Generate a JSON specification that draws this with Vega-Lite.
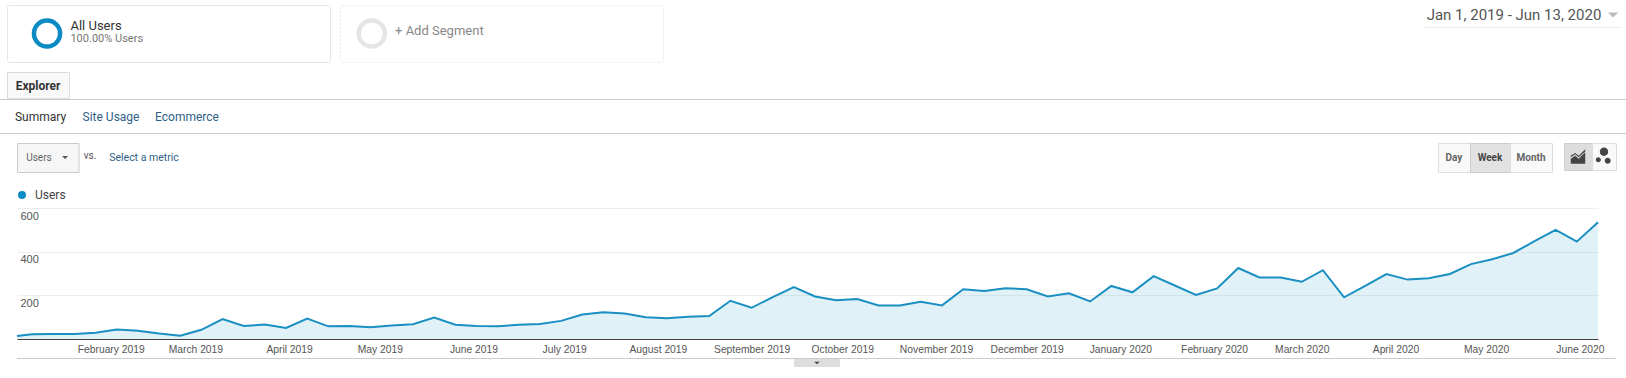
{
"$schema":"https://vega.github.io/schema/vega-lite/v6.json",
"padding":0,
"background":"#ffffff",
"spacing":0,
"config":{"view":{"stroke":null,"fill":"transparent"},"concat":{"spacing":0},"text":{"font":"Roboto"}},
"vconcat":[
{"width":10,"height":3.5,"data":{"values":[]},"mark":"point"},
{"hconcat":[
 {"width":7,"height":1,"data":{"values":[]},"mark":"point"},
 {"width":323,"height":57,"view":{"fill":"#ffffff","stroke":"#e6e6e6","cornerRadius":2},
  "layer":[
   {"data":{"values":[{"part":"ring"}]},"mark":{"type":"point","filled":false,"strokeWidth":4.5,"size":680,"color":"#0a8bc4","opacity":1},
    "encoding":{"x":{"field":"part","type":"nominal","axis":null,"scale":{"type":"point","domain":["ring","text","c","d","e","f","g","h","i","j","k","l","m"],"padding":0.9,"align":0.95}}}},
   {"data":{"values":[{"part":"text","label":"All Users"}]},"mark":{"type":"text","align":"left","font":"Roboto","fontSize":13,"color":"#333333","dy":-1},
    "encoding":{"x":{"field":"part","type":"nominal","axis":null,"scale":{"type":"point","domain":["ring","text","c","d","e","f","g","h","i","j","k","l","m"],"padding":0.9,"align":0.95}},
     "y":{"field":"label","type":"nominal","axis":null,"scale":{"type":"point","domain":["top","All Users","100.00% Users","bottom"],"padding":0.69}},
     "text":{"field":"label"}}},
   {"data":{"values":[{"part":"text","label":"100.00% Users"}]},"mark":{"type":"text","align":"left","font":"Roboto","fontSize":11,"color":"#777777","dy":-1},
    "encoding":{"x":{"field":"part","type":"nominal","axis":null,"scale":{"type":"point","domain":["ring","text","c","d","e","f","g","h","i","j","k","l","m"],"padding":0.9,"align":0.95}},
     "y":{"field":"label","type":"nominal","axis":null,"scale":{"type":"point","domain":["top","All Users","100.00% Users","bottom"],"padding":0.69}},
     "text":{"field":"label"}}}
  ]},
 {"width":10,"height":1,"data":{"values":[]},"mark":"point"},
 {"width":323,"height":57,"view":{"fill":"#ffffff","stroke":"#e8e8e8","strokeDash":[2,2],"cornerRadius":2},
  "layer":[
   {"data":{"values":[{"part":"ring"}]},"mark":{"type":"point","filled":false,"strokeWidth":4.5,"size":680,"color":"#e5e5e5","opacity":1},
    "encoding":{"x":{"field":"part","type":"nominal","axis":null,"scale":{"type":"point","domain":["ring","text","c","d","e","f","g","h","i","j","k","l","m"],"padding":0.95,"align":0.72}}}},
   {"data":{"values":[{"part":"text","label":"+ Add Segment"}]},"mark":{"type":"text","align":"left","font":"Roboto","fontSize":13,"color":"#888888","dy":-3},
    "encoding":{"x":{"field":"part","type":"nominal","axis":null,"scale":{"type":"point","domain":["ring","text","c","d","e","f","g","h","i","j","k","l","m"],"padding":0.95,"align":0.72}},
     "text":{"field":"label"}}}
  ]},
 {"width":761,"height":1,"data":{"values":[]},"mark":"point"},
 {"vconcat":[
   {"hconcat":[
     {"width":180,"height":20,"data":{"values":[{"label":"Jan 1, 2019 - Jun 13, 2020"}]},"mark":{"type":"text","font":"Roboto","fontSize":15,"color":"#555555"},"encoding":{"text":{"field":"label"}}},
     {"width":18,"height":20,"data":{"values":[{"glyph":"caret"}]},"mark":{"type":"point","filled":true,"shape":"M-1,-0.5L1,-0.5L0,0.5Z","size":110,"color":"#bbbbbb","opacity":1},"encoding":{}}
   ],"spacing":0,"bounds":"flush"},
   {"width":198,"height":2,"data":{"values":[]},"mark":"point"},
   {"width":198,"height":1,"view":{"fill":"#eeeeee"},"data":{"values":[]},"mark":"point"}
 ],"spacing":0}
],"spacing":0,"bounds":"flush"},
{"width":10,"height":8,"data":{"values":[]},"mark":"point"},
{"hconcat":[
 {"width":7,"height":1,"data":{"values":[]},"mark":"point"},
 {"width":62,"height":26,"view":{"fill":"#f9f9f9","stroke":"#dddddd"},"data":{"values":[{"label":"Explorer"}]},"mark":{"type":"text","font":"Roboto","fontSize":12,"fontWeight":"bold","color":"#333333","dy":1},"encoding":{"text":{"field":"label"}}}
],"spacing":0,"bounds":"flush"},
{"width":1626,"height":1,"view":{"fill":"#cccccc"},"data":{"values":[]},"mark":"point"},
{"hconcat":[
 {"width":15,"height":1,"data":{"values":[]},"mark":"point"},
 {"width":51,"height":33,"data":{"values":[{"label":"Summary"}]},"mark":{"type":"text","font":"Roboto","fontSize":12,"color":"#333333"},"encoding":{"text":{"field":"label"}}},
 {"width":16,"height":1,"data":{"values":[]},"mark":"point"},
 {"width":58,"height":33,"data":{"values":[{"label":"Site Usage"}]},"mark":{"type":"text","font":"Roboto","fontSize":12,"color":"#2f5f86"},"encoding":{"text":{"field":"label"}}},
 {"width":15,"height":1,"data":{"values":[]},"mark":"point"},
 {"width":64,"height":33,"data":{"values":[{"label":"Ecommerce"}]},"mark":{"type":"text","font":"Roboto","fontSize":12,"color":"#2f5f86"},"encoding":{"text":{"field":"label"}}}
],"spacing":0,"bounds":"flush"},
{"width":1626,"height":1,"view":{"fill":"#cccccc"},"data":{"values":[]},"mark":"point"},
{"width":10,"height":8,"data":{"values":[]},"mark":"point"},
{"hconcat":[
 {"width":17,"height":1,"data":{"values":[]},"mark":"point"},
 {"width":61.5,"height":29,"view":{"fill":"#f6f6f6","stroke":"#cccccc"},
  "layer":[
   {"data":{"values":[{"part":"metric","label":"Users"}]},"mark":{"type":"text","font":"Roboto","fontSize":10,"color":"#666666"},
    "encoding":{"x":{"field":"part","type":"nominal","axis":null,"scale":{"type":"point","domain":["metric","caret"],"padding":0.68,"align":0.62}},"text":{"field":"label"}}},
   {"data":{"values":[{"part":"caret"}]},"mark":{"type":"point","filled":true,"shape":"M-1,-0.5L1,-0.5L0,0.5Z","size":36,"color":"#555555","opacity":1},
    "encoding":{"x":{"field":"part","type":"nominal","axis":null,"scale":{"type":"point","domain":["metric","caret"],"padding":0.68,"align":0.62}}}}
  ]},
 {"width":22,"height":26,"data":{"values":[{"label":"vs."}]},"mark":{"type":"text","font":"Roboto","fontSize":10,"color":"#555555"},"encoding":{"text":{"field":"label"}}},
 {"width":9,"height":1,"data":{"values":[]},"mark":"point"},
 {"width":68,"height":29,"data":{"values":[{"label":"Select a metric"}]},"mark":{"type":"text","font":"Roboto","fontSize":10.5,"color":"#2f5f86"},"encoding":{"text":{"field":"label"}}},
 {"width":1260,"height":1,"data":{"values":[]},"mark":"point"},
 {"width":32,"height":29,"view":{"fill":"#f9f9f9","stroke":"#dddddd"},"data":{"values":[{"label":"Day"}]},"mark":{"type":"text","font":"Roboto","fontSize":10,"fontWeight":"bold","color":"#666666"},"encoding":{"text":{"field":"label"}}},
 {"width":40,"height":29,"view":{"fill":"#e2e2e2","stroke":"#cccccc"},"data":{"values":[{"label":"Week"}]},"mark":{"type":"text","font":"Roboto","fontSize":10,"fontWeight":"bold","color":"#444444"},"encoding":{"text":{"field":"label"}}},
 {"width":42,"height":29,"view":{"fill":"#f9f9f9","stroke":"#dddddd"},"data":{"values":[{"label":"Month"}]},"mark":{"type":"text","font":"Roboto","fontSize":10,"fontWeight":"bold","color":"#666666"},"encoding":{"text":{"field":"label"}}},
 {"width":12,"height":1,"data":{"values":[]},"mark":"point"},
 {"width":28,"height":27,"view":{"fill":"#dddddd","stroke":"#cccccc"},"data":{"values":[{"icon":"timeline"}]},"mark":{"type":"point","filled":true,"opacity":1,"color":"#444444","size":210,"shape":"M-1,1L-1,0.3L-0.4,-0.1L0.1,0.3L1,-0.6L1,1ZM-1,-0.1L-0.4,-0.5L0.1,-0.1L1,-1L1,-0.7L0.1,0.1L-0.4,-0.3L-1,0.1Z"},"encoding":{}},
 {"width":24,"height":27,"view":{"fill":"#f9f9f9","stroke":"#dddddd"},"data":{"values":[{"icon":"motion"}]},"mark":{"type":"point","filled":true,"opacity":1,"color":"#444444","size":400,"shape":"M-0.42,-0.47a0.42,0.42 0 1,0 0.84,0a0.42,0.42 0 1,0 -0.84,0ZM-0.82,0.33a0.25,0.25 0 1,0 0.5,0a0.25,0.25 0 1,0 -0.5,0ZM0.07,0.43a0.3,0.3 0 1,0 0.6,0a0.3,0.3 0 1,0 -0.6,0Z"},"encoding":{}}
],"spacing":0,"bounds":"flush"},
{"width":10,"height":34.6,"data":{"values":[]},"mark":"point"},
{"hconcat":[
 {"width":17,"height":1,"data":{"values":[]},"mark":"point"},
 {"width":1581,"height":131,
  "data":{"values":[
{"week":"2019-01-01T00:00:00","users":14,"metric":"Users"},
{"week":"2019-01-06T00:00:00","users":22,"metric":"Users"},
{"week":"2019-01-13T00:00:00","users":23,"metric":"Users"},
{"week":"2019-01-20T00:00:00","users":23,"metric":"Users"},
{"week":"2019-01-27T00:00:00","users":29,"metric":"Users"},
{"week":"2019-02-03T00:00:00","users":43,"metric":"Users"},
{"week":"2019-02-10T00:00:00","users":38,"metric":"Users"},
{"week":"2019-02-17T00:00:00","users":25,"metric":"Users"},
{"week":"2019-02-24T00:00:00","users":15,"metric":"Users"},
{"week":"2019-03-03T00:00:00","users":42,"metric":"Users"},
{"week":"2019-03-10T00:00:00","users":91,"metric":"Users"},
{"week":"2019-03-17T00:00:00","users":60,"metric":"Users"},
{"week":"2019-03-24T00:00:00","users":66,"metric":"Users"},
{"week":"2019-03-31T00:00:00","users":51,"metric":"Users"},
{"week":"2019-04-07T00:00:00","users":94,"metric":"Users"},
{"week":"2019-04-14T00:00:00","users":58,"metric":"Users"},
{"week":"2019-04-21T00:00:00","users":60,"metric":"Users"},
{"week":"2019-04-28T00:00:00","users":54,"metric":"Users"},
{"week":"2019-05-05T00:00:00","users":62,"metric":"Users"},
{"week":"2019-05-12T00:00:00","users":68,"metric":"Users"},
{"week":"2019-05-19T00:00:00","users":98,"metric":"Users"},
{"week":"2019-05-26T00:00:00","users":65,"metric":"Users"},
{"week":"2019-06-02T00:00:00","users":60,"metric":"Users"},
{"week":"2019-06-09T00:00:00","users":58,"metric":"Users"},
{"week":"2019-06-16T00:00:00","users":65,"metric":"Users"},
{"week":"2019-06-23T00:00:00","users":69,"metric":"Users"},
{"week":"2019-06-30T00:00:00","users":83,"metric":"Users"},
{"week":"2019-07-07T00:00:00","users":112,"metric":"Users"},
{"week":"2019-07-14T00:00:00","users":122,"metric":"Users"},
{"week":"2019-07-21T00:00:00","users":117,"metric":"Users"},
{"week":"2019-07-28T00:00:00","users":100,"metric":"Users"},
{"week":"2019-08-04T00:00:00","users":95,"metric":"Users"},
{"week":"2019-08-11T00:00:00","users":102,"metric":"Users"},
{"week":"2019-08-18T00:00:00","users":105,"metric":"Users"},
{"week":"2019-08-25T00:00:00","users":175,"metric":"Users"},
{"week":"2019-09-01T00:00:00","users":143,"metric":"Users"},
{"week":"2019-09-08T00:00:00","users":192,"metric":"Users"},
{"week":"2019-09-15T00:00:00","users":238,"metric":"Users"},
{"week":"2019-09-22T00:00:00","users":195,"metric":"Users"},
{"week":"2019-09-29T00:00:00","users":177,"metric":"Users"},
{"week":"2019-10-06T00:00:00","users":183,"metric":"Users"},
{"week":"2019-10-13T00:00:00","users":154,"metric":"Users"},
{"week":"2019-10-20T00:00:00","users":154,"metric":"Users"},
{"week":"2019-10-27T00:00:00","users":171,"metric":"Users"},
{"week":"2019-11-03T00:00:00","users":154,"metric":"Users"},
{"week":"2019-11-10T00:00:00","users":228,"metric":"Users"},
{"week":"2019-11-17T00:00:00","users":220,"metric":"Users"},
{"week":"2019-11-24T00:00:00","users":232,"metric":"Users"},
{"week":"2019-12-01T00:00:00","users":228,"metric":"Users"},
{"week":"2019-12-08T00:00:00","users":195,"metric":"Users"},
{"week":"2019-12-15T00:00:00","users":209,"metric":"Users"},
{"week":"2019-12-22T00:00:00","users":172,"metric":"Users"},
{"week":"2019-12-29T00:00:00","users":243,"metric":"Users"},
{"week":"2020-01-05T00:00:00","users":214,"metric":"Users"},
{"week":"2020-01-12T00:00:00","users":288,"metric":"Users"},
{"week":"2020-01-19T00:00:00","users":245,"metric":"Users"},
{"week":"2020-01-26T00:00:00","users":202,"metric":"Users"},
{"week":"2020-02-02T00:00:00","users":232,"metric":"Users"},
{"week":"2020-02-09T00:00:00","users":325,"metric":"Users"},
{"week":"2020-02-16T00:00:00","users":282,"metric":"Users"},
{"week":"2020-02-23T00:00:00","users":282,"metric":"Users"},
{"week":"2020-03-01T00:00:00","users":262,"metric":"Users"},
{"week":"2020-03-08T00:00:00","users":315,"metric":"Users"},
{"week":"2020-03-15T00:00:00","users":191,"metric":"Users"},
{"week":"2020-03-22T00:00:00","users":243,"metric":"Users"},
{"week":"2020-03-29T00:00:00","users":297,"metric":"Users"},
{"week":"2020-04-05T00:00:00","users":272,"metric":"Users"},
{"week":"2020-04-12T00:00:00","users":278,"metric":"Users"},
{"week":"2020-04-19T00:00:00","users":298,"metric":"Users"},
{"week":"2020-04-26T00:00:00","users":343,"metric":"Users"},
{"week":"2020-05-03T00:00:00","users":365,"metric":"Users"},
{"week":"2020-05-10T00:00:00","users":394,"metric":"Users"},
{"week":"2020-05-17T00:00:00","users":448,"metric":"Users"},
{"week":"2020-05-24T00:00:00","users":500,"metric":"Users"},
{"week":"2020-05-31T00:00:00","users":446,"metric":"Users"},
{"week":"2020-06-07T00:00:00","users":535,"metric":"Users"}
  ]},
  "encoding":{
   "x":{"field":"week","type":"temporal","scale":{"nice":false},"title":null,
    "axis":{"values":["2019-02-01T00:00:00","2019-03-01T00:00:00","2019-04-01T00:00:00","2019-05-01T00:00:00","2019-06-01T00:00:00","2019-07-01T00:00:00","2019-08-01T00:00:00","2019-09-01T00:00:00","2019-10-01T00:00:00","2019-11-01T00:00:00","2019-12-01T00:00:00","2020-01-01T00:00:00","2020-02-01T00:00:00","2020-03-01T00:00:00","2020-04-01T00:00:00","2020-05-01T00:00:00","2020-06-01T00:00:00"],
     "format":"%B %Y","grid":false,"ticks":false,"domainColor":"#444444","domainWidth":1,"labelFont":"Liberation Sans","labelFontSize":10.3,"labelColor":"#555555","labelPadding":5,"labelAngle":0,"labelOverlap":false,"labelFlush":false,"labelBound":false}},
   "y":{"field":"users","type":"quantitative","scale":{"domain":[0,600],"nice":false},"title":null,
    "axis":{"values":[200,400,600],"grid":true,"gridColor":"#eeeeee","domain":false,"ticks":false,"labelAlign":"left","labelBaseline":"top","labelPadding":-3,"labelOffset":2,"labelFont":"Liberation Sans","labelFontSize":11,"labelColor":"#555555"}}
  },
  "layer":[
   {"mark":{"type":"area","color":"#058dc7","opacity":0.12}},
   {"mark":{"type":"line","strokeWidth":2},
    "encoding":{"color":{"field":"metric","type":"nominal","scale":{"domain":["Users"],"range":["#1a8fc1"]},
     "legend":{"orient":"none","legendX":16,"legendY":189,"title":null,"padding":0,"symbolType":"circle","symbolSize":64,"symbolFillColor":"#0a8bc4","symbolStrokeWidth":0,"labelFont":"Roboto","labelFontSize":12,"labelColor":"#444444","labelOffset":7}}}}
  ]}
],"spacing":0,"bounds":"flush"},
{"width":10,"height":2.4,"data":{"values":[]},"mark":"point"},
{"hconcat":[
 {"width":17,"height":1,"data":{"values":[]},"mark":"point"},
 {"width":1599,"height":1,"view":{"fill":"#cccccc"},"data":{"values":[]},"mark":"point"}
],"spacing":0,"bounds":"flush"},
{"hconcat":[
 {"width":794,"height":1,"data":{"values":[]},"mark":"point"},
 {"width":46,"height":8,"view":{"fill":"#dddddd"},"data":{"values":[{"glyph":"expand"}]},"mark":{"type":"point","filled":true,"shape":"M-1,-0.5L1,-0.5L0,0.5Z","size":30,"color":"#444444","opacity":1},"encoding":{}}
],"spacing":0,"bounds":"flush"}
]}
